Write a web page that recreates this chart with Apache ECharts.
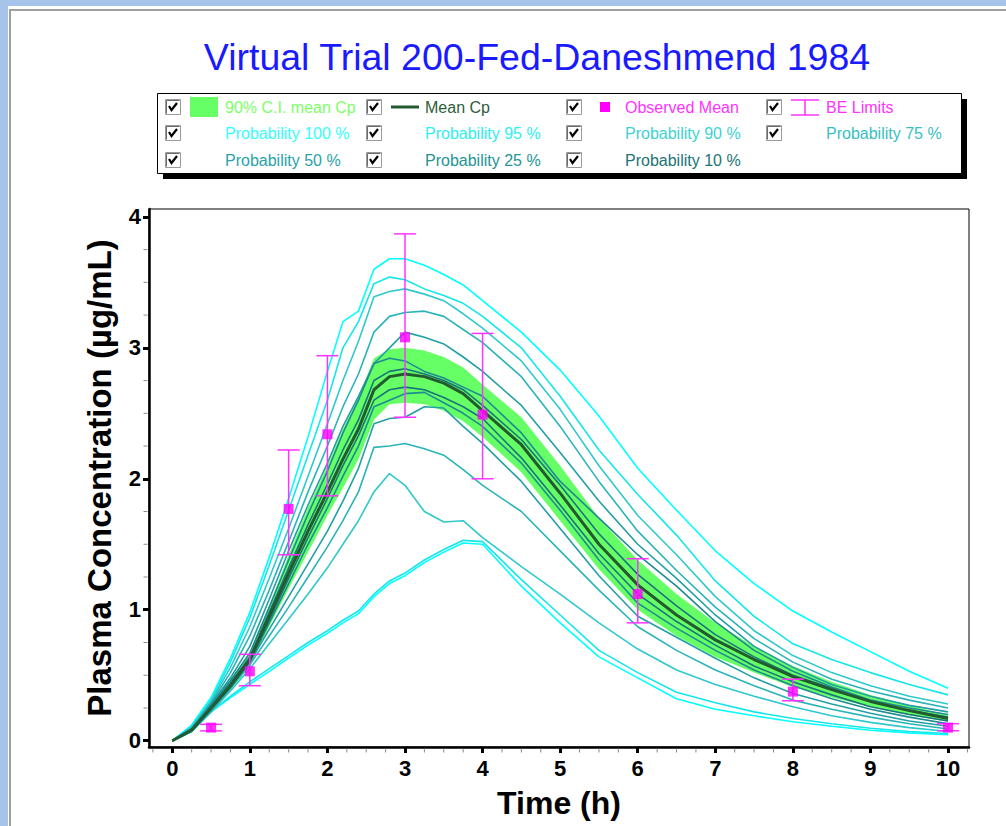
<!DOCTYPE html>
<html>
<head>
<meta charset="utf-8">
<title>Virtual Trial 200-Fed-Daneshmend 1984</title>
<script src="https://cdn.jsdelivr.net/npm/echarts@6/dist/echarts.min.js"></script>
<style>
  html, body { margin: 0; padding: 0; background: #fff; }
  #chart { width: 1006px; height: 826px; }
</style>
</head>
<body>
<div id="chart"></div>
<script>
// Simulation time grid (h)
const time = [0, 0.25, 0.5, 0.75, 1, 1.25, 1.5, 1.75, 2, 2.2, 2.4, 2.6, 2.8, 3, 3.25, 3.5, 3.75, 4, 4.5, 5, 5.5, 6, 6.5, 7, 7.5, 8, 8.5, 9, 9.5, 10];

// Mean plasma concentration and its 90% confidence interval (µg/mL)
const meanCp  = [0, 0.08, 0.25, 0.42, 0.62, 0.95, 1.28, 1.6, 1.9, 2.15, 2.38, 2.68, 2.78, 2.80, 2.78, 2.73, 2.65, 2.52, 2.26, 1.89, 1.50, 1.19, 0.96, 0.77, 0.62, 0.49, 0.39, 0.30, 0.23, 0.17];
const ciUpper = [0, 0.09, 0.27, 0.46, 0.67, 1.03, 1.42, 1.78, 2.1, 2.38, 2.62, 2.92, 2.99, 3.0, 2.98, 2.93, 2.85, 2.72, 2.47, 2.1, 1.7, 1.38, 1.12, 0.9, 0.72, 0.57, 0.45, 0.35, 0.27, 0.195];
const ciLower = [0, 0.07, 0.23, 0.38, 0.57, 0.87, 1.16, 1.44, 1.72, 1.93, 2.15, 2.45, 2.57, 2.58, 2.57, 2.52, 2.44, 2.32, 2.05, 1.68, 1.31, 1.0, 0.8, 0.64, 0.52, 0.41, 0.33, 0.26, 0.195, 0.145];

// Probability envelopes: upper and lower bound of each central interval
const p100Hi = [0, 0.12, 0.33, 0.63, 0.98, 1.4, 1.85, 2.32, 2.82, 3.2, 3.28, 3.6, 3.68, 3.68, 3.63, 3.56, 3.48, 3.36, 3.12, 2.83, 2.48, 2.08, 1.76, 1.45, 1.2, 0.99, 0.83, 0.68, 0.53, 0.40];
const p95Hi  = [0, 0.11, 0.31, 0.6, 0.94, 1.34, 1.76, 2.18, 2.6, 3.0, 3.2, 3.49, 3.54, 3.52, 3.45, 3.4, 3.34, 3.24, 3.0, 2.63, 2.22, 1.88, 1.57, 1.22, 0.95, 0.74, 0.62, 0.52, 0.43, 0.35];
const p90Hi  = [0, 0.1, 0.3, 0.56, 0.87, 1.24, 1.62, 2.02, 2.42, 2.75, 3.05, 3.39, 3.43, 3.45, 3.41, 3.36, 3.26, 3.15, 2.9, 2.53, 2.1, 1.72, 1.42, 1.1, 0.84, 0.65, 0.52, 0.42, 0.34, 0.28];
const p75Hi  = [0, 0.1, 0.29, 0.52, 0.8, 1.15, 1.52, 1.9, 2.25, 2.55, 2.8, 3.12, 3.24, 3.27, 3.28, 3.24, 3.14, 3.04, 2.78, 2.4, 1.98, 1.6, 1.3, 1.02, 0.78, 0.6, 0.47, 0.38, 0.31, 0.25];
const p50Hi  = [0, 0.09, 0.28, 0.48, 0.72, 1.08, 1.45, 1.8, 2.12, 2.4, 2.63, 2.88, 3.0, 3.12, 3.08, 3.03, 2.93, 2.82, 2.56, 2.2, 1.83, 1.5, 1.24, 0.96, 0.72, 0.56, 0.43, 0.34, 0.27, 0.22];
const p25Hi  = [0, 0.09, 0.27, 0.46, 0.67, 1.02, 1.38, 1.73, 2.06, 2.35, 2.6, 2.88, 2.92, 2.9, 2.82, 2.77, 2.7, 2.63, 2.35, 1.98, 1.7, 1.42, 1.18, 0.91, 0.69, 0.53, 0.41, 0.31, 0.25, 0.2];
const p10Hi  = [0, 0.09, 0.26, 0.44, 0.64, 0.98, 1.32, 1.65, 1.96, 2.22, 2.45, 2.75, 2.82, 2.84, 2.8, 2.75, 2.68, 2.56, 2.3, 1.95, 1.58, 1.27, 1.03, 0.81, 0.64, 0.5, 0.4, 0.3, 0.23, 0.18];
const p10Lo  = [0, 0.08, 0.25, 0.42, 0.61, 0.92, 1.24, 1.55, 1.85, 2.1, 2.33, 2.6, 2.68, 2.7, 2.68, 2.62, 2.55, 2.46, 2.16, 1.8, 1.43, 1.12, 0.91, 0.73, 0.57, 0.45, 0.35, 0.26, 0.2, 0.15];
const p25Lo  = [0, 0.08, 0.24, 0.41, 0.6, 0.9, 1.2, 1.5, 1.78, 2.02, 2.25, 2.55, 2.6, 2.65, 2.66, 2.58, 2.5, 2.4, 2.12, 1.76, 1.38, 1.05, 0.86, 0.69, 0.54, 0.42, 0.32, 0.24, 0.18, 0.13];
const p50Lo  = [0, 0.08, 0.23, 0.4, 0.6, 0.85, 1.1, 1.35, 1.6, 1.83, 2.08, 2.42, 2.46, 2.47, 2.55, 2.54, 2.4, 2.27, 1.98, 1.62, 1.26, 0.95, 0.79, 0.63, 0.48, 0.36, 0.28, 0.21, 0.15, 0.11];
const p75Lo  = [0, 0.07, 0.23, 0.4, 0.58, 0.8, 1.02, 1.25, 1.48, 1.68, 1.9, 2.24, 2.25, 2.27, 2.23, 2.18, 2.07, 1.95, 1.75, 1.45, 1.15, 0.87, 0.69, 0.54, 0.42, 0.31, 0.24, 0.18, 0.13, 0.09];
const p90Lo  = [0, 0.07, 0.22, 0.38, 0.55, 0.74, 0.93, 1.12, 1.32, 1.5, 1.68, 1.9, 2.04, 1.95, 1.75, 1.67, 1.68, 1.55, 1.33, 1.12, 0.9, 0.7, 0.54, 0.43, 0.34, 0.26, 0.19, 0.14, 0.1, 0.07];
const p95Lo  = [0, 0.07, 0.22, 0.34, 0.45, 0.55, 0.65, 0.75, 0.84, 0.92, 0.99, 1.12, 1.22, 1.28, 1.38, 1.46, 1.53, 1.52, 1.23, 0.96, 0.69, 0.52, 0.37, 0.29, 0.22, 0.17, 0.13, 0.095, 0.07, 0.055];
const p100Lo = [0, 0.07, 0.22, 0.33, 0.43, 0.53, 0.63, 0.73, 0.82, 0.9, 0.97, 1.1, 1.2, 1.26, 1.36, 1.44, 1.51, 1.5, 1.18, 0.9, 0.64, 0.48, 0.32, 0.24, 0.19, 0.145, 0.11, 0.08, 0.06, 0.045];

// Observed mean concentrations with bioequivalence limits
const obsTime = [0.5, 1, 1.5, 2, 3, 4, 6, 8, 10];
const obsMean = [0.10, 0.53, 1.77, 2.34, 3.08, 2.49, 1.12, 0.375, 0.10];
const beLow   = [0.075, 0.42, 1.42, 1.87, 2.47, 2.0, 0.90, 0.305, 0.076];
const beHigh  = [0.125, 0.66, 2.22, 2.94, 3.87, 3.11, 1.39, 0.47, 0.13];

// Axis ticks
const xTicks = [0, 1, 2, 3, 4, 5, 6, 7, 8, 9, 10];
const xMinorTicks = [-0.25, 0.25, 0.5, 0.75, 1.25, 1.5, 1.75, 2.25, 2.5, 2.75, 3.25, 3.5, 3.75, 4.25, 4.5, 4.75, 5.25, 5.5, 5.75, 6.25, 6.5, 6.75, 7.25, 7.5, 7.75, 8.25, 8.5, 8.75, 9.25, 9.5, 9.75, 10.25];
const yTicks = [0, 1, 2, 3, 4];
const yMinorTicks = [0.25, 0.5, 0.75, 1.25, 1.5, 1.75, 2.25, 2.5, 2.75, 3.25, 3.5, 3.75];

const X_MIN = -0.3, X_MAX = 10.27, Y_MIN = -0.048, Y_MAX = 4.06;
const FONT = '"Liberation Sans", Arial, Helvetica, sans-serif';
const pairs = (ys) => time.map((t, i) => [t, ys[i]]);

const envelopes = [
  { name: 'Probability 100 %', hi: p100Hi, lo: p100Lo, color: '#00ffff', text: '#33ffff' },
  { name: 'Probability 95 %',  hi: p95Hi,  lo: p95Lo,  color: '#14e6ea', text: '#2ef0f0' },
  { name: 'Probability 90 %',  hi: p90Hi,  lo: p90Lo,  color: '#2fc8cc', text: '#40d2d2' },
  { name: 'Probability 75 %',  hi: p75Hi,  lo: p75Lo,  color: '#2ab4b8', text: '#38c0c0' },
  { name: 'Probability 50 %',  hi: p50Hi,  lo: p50Lo,  color: '#22a0a4', text: '#28a4a8' },
  { name: 'Probability 25 %',  hi: p25Hi,  lo: p25Lo,  color: '#1d8c90', text: '#249494' },
  { name: 'Probability 10 %',  hi: p10Hi,  lo: p10Lo,  color: '#18767a', text: '#1c7474' }
];

const series = [];

// 90% confidence band: one polygon through the upper bounds and back along the lower bounds
series.push({
  name: '90% C.I. mean Cp', type: 'custom', silent: true, z: 1,
  encode: { x: 0, y: [1, 2] },
  data: time.map((t, i) => [t, ciLower[i], ciUpper[i]]),
  renderItem: function (params, api) {
    if (params.dataIndexInside !== 0) return null;
    const n = params.dataInsideLength;
    const upper = [], lower = [];
    for (let i = 0; i < n; i++) {
      const t = api.value(0, i);
      upper.push(api.coord([t, api.value(2, i)]));
      lower.push(api.coord([t, api.value(1, i)]));
    }
    return {
      type: 'polygon',
      shape: { points: upper.concat(lower.reverse()) },
      style: { fill: '#66ff66' }
    };
  }
});

envelopes.forEach((env) => {
  [env.hi, env.lo].forEach((ys) => {
    series.push({
      name: env.name, type: 'line', symbol: 'none', silent: true,
      lineStyle: { color: env.color, width: 1.6 }, data: pairs(ys), z: 2
    });
  });
});

series.push({
  name: 'Mean Cp', type: 'line', symbol: 'none', silent: true,
  lineStyle: { color: '#235a30', width: 3 }, data: pairs(meanCp), z: 3
});

series.push({
  name: 'BE Limits', type: 'custom', silent: true, z: 4,
  encode: { x: 0, y: [1, 2] },
  data: obsTime.map((t, i) => [t, beLow[i], beHigh[i]]),
  renderItem: function (params, api) {
    const x = api.value(0);
    const lo = api.coord([x, api.value(1)]);
    const hi = api.coord([x, api.value(2)]);
    const half = 11;
    const st = { stroke: '#ff33ff', lineWidth: 1.5 };
    return {
      type: 'group',
      children: [
        { type: 'line', shape: { x1: lo[0], y1: lo[1], x2: hi[0], y2: hi[1] }, style: st },
        { type: 'line', shape: { x1: hi[0] - half, y1: hi[1], x2: hi[0] + half, y2: hi[1] }, style: st },
        { type: 'line', shape: { x1: lo[0] - half, y1: lo[1], x2: lo[0] + half, y2: lo[1] }, style: st }
      ]
    };
  }
});

series.push({
  name: 'Observed Mean', type: 'scatter', symbol: 'rect', symbolSize: 10, silent: true, z: 5,
  itemStyle: { color: '#ff00ff' },
  data: obsTime.map((t, i) => [t, obsMean[i]])
});

// Minor tick marks placed through the axis scales, just outside the plot frame
series.push({
  name: 'xMinorTicks', type: 'custom', silent: true, clip: false, z: 6,
  encode: { x: 0, y: 1 },
  data: xMinorTicks.map((v) => [v, Y_MIN]),
  renderItem: function (params, api) {
    const p = api.coord([api.value(0), api.value(1)]);
    return { type: 'line', shape: { x1: p[0], y1: p[1] + 1.5, x2: p[0], y2: p[1] + 5.5 },
             style: { stroke: '#8a8a8a', lineWidth: 1 } };
  }
});
series.push({
  name: 'yMinorTicks', type: 'custom', silent: true, clip: false, z: 6,
  encode: { x: 0, y: 1 },
  data: yMinorTicks.map((v) => [X_MIN, v]),
  renderItem: function (params, api) {
    const p = api.coord([api.value(0), api.value(1)]);
    return { type: 'line', shape: { x1: p[0] - 1.5, y1: p[1], x2: p[0] - 5.5, y2: p[1] },
             style: { stroke: '#8a8a8a', lineWidth: 1 } };
  }
});

// Legend panel with check boxes
const legendItems = [
  { col: 0, row: 0, text: '90% C.I. mean Cp', color: '#7dff66', mark: 'band' },
  { col: 1, row: 0, text: 'Mean Cp', color: '#2e5e3c', mark: 'line' },
  { col: 2, row: 0, text: 'Observed Mean', color: '#ff33ff', mark: 'square' },
  { col: 3, row: 0, text: 'BE Limits', color: '#ff33ff', mark: 'bar' },
  { col: 0, row: 1, text: envelopes[0].name, color: envelopes[0].text },
  { col: 1, row: 1, text: envelopes[1].name, color: envelopes[1].text },
  { col: 2, row: 1, text: envelopes[2].name, color: envelopes[2].text },
  { col: 3, row: 1, text: envelopes[3].name, color: envelopes[3].text },
  { col: 0, row: 2, text: envelopes[4].name, color: envelopes[4].text },
  { col: 1, row: 2, text: envelopes[5].name, color: envelopes[5].text },
  { col: 2, row: 2, text: envelopes[6].name, color: envelopes[6].text }
];
const colBox = [173, 374, 574, 774];
const colText = [225, 425, 625, 826];
const rowY = [107, 133, 160];

const graphics = [
  // window frame
  { type: 'rect', shape: { x: 0, y: 0, width: 1006, height: 6 }, style: { fill: '#a6c4ea' }, z: 100 },
  { type: 'rect', shape: { x: 0, y: 0, width: 8, height: 826 }, style: { fill: '#a6c4ea' }, z: 100 },
  { type: 'rect', shape: { x: 9, y: 9, width: 997, height: 2 }, style: { fill: '#a0a0a0' }, z: 100 },
  { type: 'rect', shape: { x: 9, y: 9, width: 2, height: 817 }, style: { fill: '#a0a0a0' }, z: 100 },
  // title
  { type: 'text', x: 537, y: 57, z: 100,
    style: { text: 'Virtual Trial 200-Fed-Daneshmend 1984', fill: '#1a1aff', font: '37.5px ' + FONT,
             textAlign: 'center', textVerticalAlign: 'middle', align: 'center', verticalAlign: 'middle' } },
  // legend shadow and box
  { type: 'rect', shape: { x: 163, y: 99, width: 804, height: 80 }, style: { fill: '#000' }, z: 100 },
  { type: 'rect', shape: { x: 157.5, y: 93.5, width: 804, height: 80 }, style: { fill: '#fff', stroke: '#000', lineWidth: 1 }, z: 101 }
];

legendItems.forEach((it) => {
  const cx = colBox[it.col], cy = rowY[it.row];
  graphics.push({ type: 'rect', z: 102, shape: { x: cx - 7.5, y: cy - 7.5, width: 15, height: 15 },
    style: { fill: '#fff', stroke: '#9a9a9a', lineWidth: 1 } });
  graphics.push({ type: 'polyline', z: 103, shape: { points: [[cx - 4, cy - 1], [cx - 1.5, cy + 3], [cx + 4, cy - 4]] },
    style: { stroke: '#000', lineWidth: 2.2, fill: null } });
  graphics.push({ type: 'polyline', z: 102, shape: { points: [[cx - 6.5, cy + 6.5], [cx - 6.5, cy - 6.5], [cx + 6.5, cy - 6.5]] },
    style: { stroke: '#6a6a6a', lineWidth: 1, fill: null } });
  const tx = colText[it.col];
  if (it.mark === 'band') {
    graphics.push({ type: 'rect', z: 102, shape: { x: 190, y: cy - 10, width: 28, height: 20 }, style: { fill: '#66ff66' } });
  } else if (it.mark === 'line') {
    graphics.push({ type: 'line', z: 102, shape: { x1: tx - 34, y1: cy, x2: tx - 6, y2: cy }, style: { stroke: '#235a30', lineWidth: 3 } });
  } else if (it.mark === 'square') {
    graphics.push({ type: 'rect', z: 102, shape: { x: tx - 25, y: cy - 5, width: 10, height: 10 }, style: { fill: '#ff00ff' } });
  } else if (it.mark === 'bar') {
    const st = { stroke: '#ff33ff', lineWidth: 1.5 };
    graphics.push({ type: 'line', z: 102, shape: { x1: tx - 35, y1: cy - 7, x2: tx - 7, y2: cy - 7 }, style: st });
    graphics.push({ type: 'line', z: 102, shape: { x1: tx - 21, y1: cy - 7, x2: tx - 21, y2: cy + 8 }, style: st });
    graphics.push({ type: 'line', z: 102, shape: { x1: tx - 35, y1: cy + 8, x2: tx - 7, y2: cy + 8 }, style: st });
  }
  graphics.push({ type: 'text', x: tx, y: cy, z: 102,
    style: { text: it.text, fill: it.color, font: '16px ' + FONT,
             textAlign: 'left', textVerticalAlign: 'middle', align: 'left', verticalAlign: 'middle' } });
});

const tickLabel = { fontFamily: FONT, fontWeight: 'bold', fontSize: 22, color: '#000' };

const option = {
  animation: false,
  backgroundColor: '#fff',
  grid: { left: 149, right: 37, top: 209, bottom: 79, show: true, borderColor: '#000', borderWidth: 1, backgroundColor: '#fff' },
  xAxis: {
    type: 'value', min: X_MIN, max: X_MAX, position: 'bottom',
    axisLine: { show: true, onZero: false, lineStyle: { color: '#000', width: 2.5 } },
    axisTick: { show: true, customValues: xTicks, length: 6, lineStyle: { color: '#000', width: 3 } },
    axisLabel: Object.assign({ customValues: xTicks, margin: 10 }, tickLabel),
    splitLine: { show: false },
    name: 'Time (h)', nameLocation: 'middle', nameGap: 40,
    nameTextStyle: { fontFamily: FONT, fontWeight: 'bold', fontSize: 32, color: '#000' }
  },
  yAxis: {
    type: 'value', min: Y_MIN, max: Y_MAX, position: 'left',
    axisLine: { show: true, onZero: false, lineStyle: { color: '#000', width: 2.5 } },
    axisTick: { show: true, customValues: yTicks, length: 6, lineStyle: { color: '#000', width: 3 } },
    axisLabel: Object.assign({ customValues: yTicks, margin: 8 }, tickLabel),
    splitLine: { show: false },
    name: 'Plasma Concentration (µg/mL)', nameLocation: 'middle', nameGap: 33, nameRotate: 90,
    nameTextStyle: { fontFamily: FONT, fontWeight: 'bold', fontSize: 33, color: '#000' }
  },
  graphic: graphics,
  series: series
};

const chart = echarts.init(document.getElementById('chart'), null, { renderer: 'svg' });
chart.setOption(option);
</script>
</body>
</html>
